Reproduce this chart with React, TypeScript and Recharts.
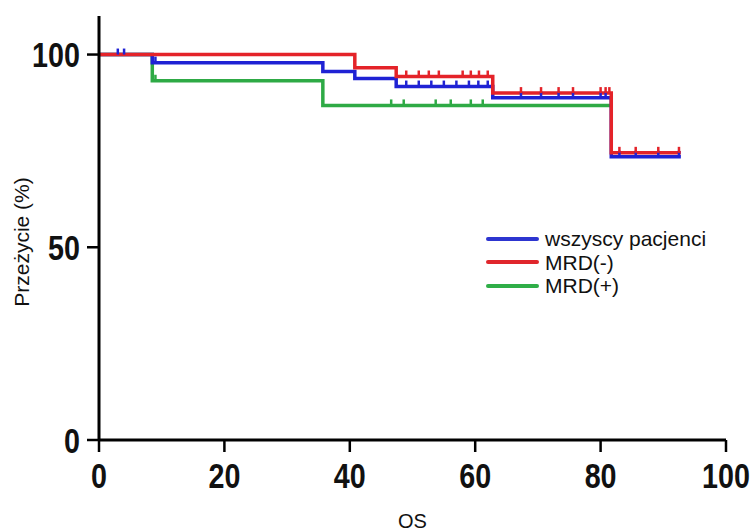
import { LineChart, Line, XAxis, YAxis, Legend } from 'recharts';

// Kaplan-Meier steps (time, survival %)
const allTimes = [0, 8.5, 35.7, 40.8, 47.4, 62.8, 81.7, 92.8];
const allSurv = [100, 97.9, 95.6, 93.8, 91.7, 88.8, 73.5, 73.5];
const allCensored = [3, 4, 9, 49, 51, 53, 55, 57, 59, 60.5, 62, 67.3, 70.5, 73.3, 75.6, 80, 80.8, 83, 85.6, 89.2, 92.5];

const negTimes = [0, 40.8, 47.4, 62.8, 81.7, 92.8];
const negSurv = [100, 96.6, 94.3, 90.0, 74.5, 74.5];
const negCensored = [49, 51, 52.6, 54.2, 58, 59.3, 60.6, 62, 67.3, 70.5, 73.3, 75.6, 80, 80.8, 81.4, 83, 85.6, 89.2, 92.5];

const posTimes = [0, 8.5, 35.7, 81.6];
const posSurv = [100, 93.2, 86.8, 86.8];
const posCensored = [9, 46.6, 48.6, 53.7, 56.1, 59.3, 61.2];

const xTicks = [0, 20, 40, 60, 80, 100];
const yTicks = [0, 50, 100];

const BLUE = '#1f22d4';
const RED = '#e42329';
const GREEN = '#2eaa45';

type Pt = { t: number; s: number; c?: boolean };

function buildSeries(times: number[], surv: number[], censored: number[]): Pt[] {
  const pts: Pt[] = times.map((t, i) => ({ t, s: surv[i] }));
  censored.forEach((ct) => {
    let s = surv[0];
    times.forEach((t, i) => {
      if (t <= ct) s = surv[i];
    });
    pts.push({ t: ct, s, c: true });
  });
  return pts.sort((a, b) => a.t - b.t);
}

const allData = buildSeries(allTimes, allSurv, allCensored);
const negData = buildSeries(negTimes, negSurv, negCensored);
const posData = buildSeries(posTimes, posSurv, posCensored);

const censorDot = (color: string) => (props: any) => {
  const { cx, cy, payload, index } = props;
  if (!payload || !payload.c) return <g key={`d-${index}`} />;
  return <line key={`d-${index}`} x1={cx} x2={cx} y1={cy} y2={cy - 6} stroke={color} strokeWidth={2.5} />;
};

const tickFont = "'Liberation Sans', Arial, sans-serif";

const XTick = (props: any) => {
  const { x, y, payload } = props;
  return (
    <text
      transform={`translate(${x},${y + 34}) scale(0.82,1)`}
      textAnchor="middle"
      fontFamily={tickFont}
      fontWeight="bold"
      fontSize={35}
      fill="#111"
    >
      {payload.value}
    </text>
  );
};

const YTick = (props: any) => {
  const { x, y, payload } = props;
  return (
    <text
      transform={`translate(${x - 5},${y + 12.5}) scale(0.82,1)`}
      textAnchor="end"
      fontFamily={tickFont}
      fontWeight="bold"
      fontSize={35}
      fill="#111"
    >
      {payload.value}
    </text>
  );
};

const legendItems = [
  { name: 'wszyscy pacjenci', color: '#2d35d0' },
  { name: 'MRD(-)', color: '#e0262c' },
  { name: 'MRD(+)', color: '#2fae48' },
];

const LegendBox = () => (
  <div style={{ fontFamily: tickFont, fontSize: 21, color: '#111', lineHeight: '23.5px' }}>
    {legendItems.map((it) => (
      <div key={it.name} style={{ display: 'flex', alignItems: 'center' }}>
        <div style={{ width: 53, height: 4, background: it.color, borderRadius: 2, marginRight: 6 }} />
        <span>{it.name}</span>
      </div>
    ))}
  </div>
);

export default function App() {
  return (
    <div style={{ position: 'absolute', left: 0, top: 0, width: 751, height: 531, background: '#fff' }}>
      <LineChart width={751} height={531} margin={{ top: 16, right: 25, bottom: 0, left: 0 }}>
        <XAxis
          type="number"
          dataKey="t"
          domain={[0, 100]}
          ticks={xTicks}
          height={91}
          stroke="#000"
          axisLine={{ stroke: '#000', strokeWidth: 3 }}
          tickLine={{ stroke: '#000', strokeWidth: 2.5 }}
          tickSize={12}
          tick={<XTick />}
          label={{ value: 'OS', position: 'insideBottom', offset: 3, fontFamily: tickFont, fontSize: 20, fill: '#111' }}
        />
        <YAxis
          type="number"
          domain={[0, 110]}
          ticks={yTicks}
          width={99}
          stroke="#000"
          axisLine={{ stroke: '#000', strokeWidth: 3 }}
          tickLine={{ stroke: '#000', strokeWidth: 2.5 }}
          tickSize={12}
          tick={<YTick />}
          label={{ value: 'Przeżycie (%)', angle: -90, position: 'insideLeft', offset: 22, dy: 14, fontFamily: tickFont, fontSize: 21, fill: '#111', style: { textAnchor: 'middle' } }}
        />
        <Legend
          layout="horizontal"
          verticalAlign="middle"
          align="center"
          wrapperStyle={{ top: 227, left: 486, width: 260 }}
          content={<LegendBox />}
        />
        <Line data={posData} dataKey="s" type="stepAfter" stroke={GREEN} strokeWidth={3.5} dot={censorDot(GREEN)} activeDot={false} isAnimationActive={false} name="MRD(+)" />
        <Line data={allData} dataKey="s" type="stepAfter" stroke={BLUE} strokeWidth={3.5} dot={censorDot(BLUE)} activeDot={false} isAnimationActive={false} name="wszyscy pacjenci" />
        <Line data={negData} dataKey="s" type="stepAfter" stroke={RED} strokeWidth={3.5} dot={censorDot(RED)} activeDot={false} isAnimationActive={false} name="MRD(-)" />
      </LineChart>
    </div>
  );
}
